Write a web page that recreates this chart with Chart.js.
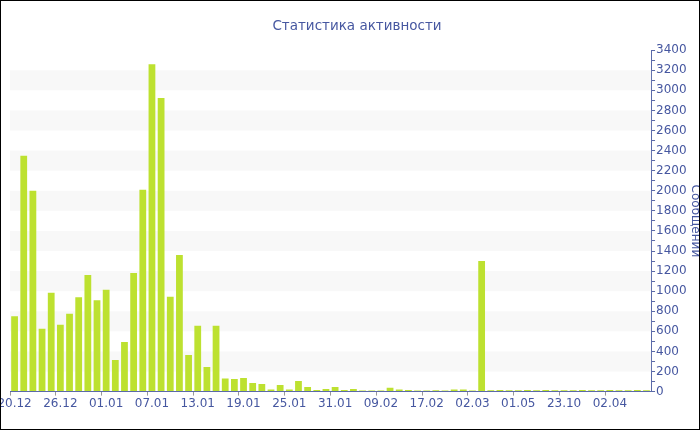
<!DOCTYPE html>
<html>
<head>
<meta charset="utf-8">
<script src="https://cdn.jsdelivr.net/npm/chart.js@4.4.1/dist/chart.umd.min.js"></script>
<style>
  html, body { margin: 0; padding: 0; background: #fff; }
  #wrap { width: 700px; height: 430px; }
</style>
</head>
<body>
<div id="wrap"><canvas id="grafica" width="700" height="430"></canvas></div>
<script>
// Подписи делений по оси X (каждая пятая категория)
const tickLabels = ['20.12', '26.12', '01.01', '07.01', '13.01', '19.01', '25.01',
                    '31.01', '09.02', '17.02', '02.03', '01.05', '23.10', '02.04'];

// Количество сообщений по категориям
const messages = [
  750, 2350, 2000, 625, 985, 665, 775, 940, 1160, 910,
  1015, 315, 495, 1180, 2010, 3260, 2925, 945, 1360, 365,
  655, 245, 655, 130, 125, 135, 85, 75, 20, 65,
  20, 105, 45, 15, 25, 45, 15, 25, 12, 12,
  10, 38, 20, 15, 12, 10, 14, 12, 20, 20,
  10, 1300, 14, 15, 13, 14, 15, 14, 15, 13,
  14, 14, 15, 13, 14, 15, 14, 13, 15, 14
];

const labelEvery = 5;
const categories = messages.map((v, i) => i % labelEvery === 0 ? tickLabels[i / labelEvery] : '');

const textColor = '#4657a0';
const axisColor = '#5b6aa8';

// Полосы фона и рамка
const bandsPlugin = {
  id: 'bands',
  beforeDatasetsDraw(chart) {
    const { ctx, chartArea, scales } = chart;
    const y = scales.y;
    ctx.save();
    ctx.fillStyle = '#f8f8f8';
    for (let v = 200; v < 3400; v += 400) {
      const top = y.getPixelForValue(v + 200);
      const bottom = y.getPixelForValue(v);
      ctx.fillRect(chartArea.left, top, chartArea.right - chartArea.left, bottom - top);
    }
    ctx.restore();
  },
  afterDraw(chart) {
    const ctx = chart.ctx;
    ctx.save();
    ctx.strokeStyle = '#000';
    ctx.lineWidth = 1;
    ctx.strokeRect(0.5, 0.5, chart.width - 1, chart.height - 1);
    ctx.restore();
  }
};

new Chart(document.getElementById('grafica'), {
  type: 'bar',
  data: {
    labels: categories,
    datasets: [{
      label: 'Сообщений',
      data: messages,
      backgroundColor: '#bde130',
      borderWidth: 0,
      categoryPercentage: 1.0,
      barPercentage: 0.74
    }]
  },
  options: {
    responsive: false,
    animation: false,
    layout: { padding: { left: 10, right: -4, top: 0, bottom: 18 } },
    plugins: {
      legend: { display: false },
      tooltip: { enabled: false },
      title: {
        display: true,
        text: 'Статистика активности',
        color: textColor,
        font: { family: 'DejaVu Sans', size: 13.5, weight: 'normal' },
        padding: { top: 18, bottom: 16 }
      }
    },
    scales: {
      x: {
        afterFit(scale) { scale.paddingLeft = 0; scale.paddingRight = 0; },
        grid: {
          drawOnChartArea: false,
          tickLength: 4,
          tickColor: (c) => c.index % labelEvery === 0 ? '#999' : 'rgba(0,0,0,0)'
        },
        border: { color: axisColor, width: 1 },
        ticks: {
          autoSkip: false,
          maxRotation: 0,
          padding: 1,
          color: textColor,
          font: { family: 'DejaVu Sans', size: 12 }
        }
      },
      y: {
        position: 'right',
        min: 0,
        max: 3400,
        grid: {
          drawOnChartArea: false,
          tickLength: 4,
          tickColor: axisColor
        },
        border: { color: axisColor, width: 1 },
        ticks: {
          stepSize: 100,
          autoSkip: false,
          padding: 1,
          color: textColor,
          font: { family: 'DejaVu Sans', size: 12 },
          callback: (v) => v % 200 === 0 ? String(v) : ''
        },
        title: {
          display: true,
          text: 'Сообщений',
          color: textColor,
          font: { family: 'DejaVu Sans', size: 12 },
          padding: { top: 2, bottom: 0 }
        }
      }
    }
  },
  plugins: [bandsPlugin]
});
</script>
</body>
</html>
